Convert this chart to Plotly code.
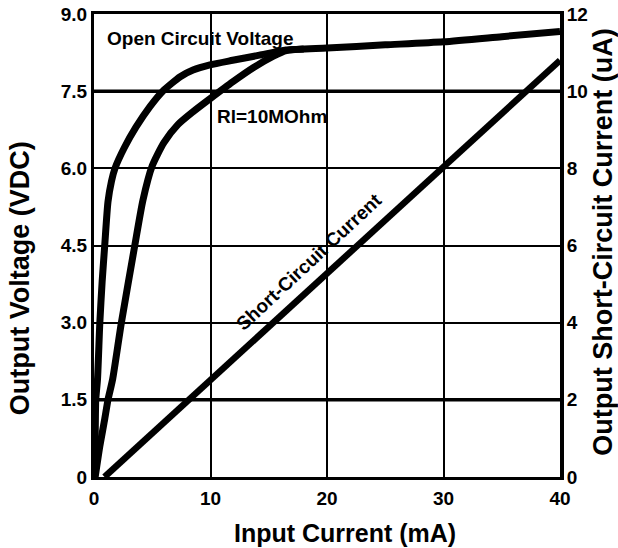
import plotly.graph_objects as go

# Open circuit voltage curve (Input current mA, Output voltage V)
oc_current = [0, 0.1, 0.15, 0.3, 0.5, 0.7, 0.92, 1.2, 1.5, 1.8, 2.6, 3.6, 4.8, 5.9, 7.4, 8.5, 9.95, 11.9, 14.2, 16.5, 20, 25, 30, 35, 40]
oc_voltage = [0, 0.8, 1.5, 1.9, 3.0, 3.8, 4.5, 5.35, 5.75, 6.0, 6.4, 6.8, 7.2, 7.5, 7.78, 7.91, 8.01, 8.1, 8.2, 8.3, 8.34, 8.4, 8.46, 8.56, 8.66]

# Rl = 10 MOhm load curve
rl_current = [0.1, 0.5, 0.9, 1.2, 1.6, 2.35, 3.5, 4.2, 5.0, 6.0, 7.2, 8.5, 10.0, 11.9, 13.7, 15.4, 16.5, 18]
rl_voltage = [0, 0.6, 1.1, 1.5, 1.9, 3.0, 4.5, 5.38, 6.05, 6.5, 6.85, 7.1, 7.36, 7.68, 7.96, 8.18, 8.29, 8.32]

# Short-circuit current (uA) vs input current (mA)
sc_current = [0.9, 40]
sc_ua = [0, 10.8]

x_ticks = [0, 10, 20, 30, 40]
y_ticks = [0, 1.5, 3.0, 4.5, 6.0, 7.5, 9.0]
y_tick_text = ["0", "1.5", "3.0", "4.5", "6.0", "7.5", "9.0"]
y2_ticks = [0, 2, 4, 6, 8, 10, 12]
thick_grid = [1.5, 7.5]

FONT = "Liberation Sans, Arial, sans-serif"

fig = go.Figure()
fig.add_trace(go.Scatter(x=oc_current, y=oc_voltage, mode="lines",
                         line=dict(color="black", width=7, shape="spline", smoothing=0.6), showlegend=False))
fig.add_trace(go.Scatter(x=rl_current, y=rl_voltage, mode="lines",
                         line=dict(color="black", width=7, shape="spline", smoothing=0.6), showlegend=False))
fig.add_trace(go.Scatter(x=sc_current, y=sc_ua, mode="lines", line=dict(color="black", width=6.5),
                         yaxis="y2", showlegend=False))

for v in thick_grid:
    fig.add_shape(type="line", xref="paper", x0=0, x1=1, yref="y", y0=v, y1=v,
                  line=dict(color="black", width=3.5), layer="below")

tickfont = dict(family=FONT, size=19, color="black", weight="bold")
annfont = dict(family=FONT, size=19, color="black", weight="bold")

fig.update_layout(
    width=618, height=548,
    margin=dict(l=94, r=58, t=14, b=71, autoexpand=False),
    paper_bgcolor="white", plot_bgcolor="white",
    xaxis=dict(range=[0, 40], tickvals=x_ticks, showgrid=True, gridcolor="black", gridwidth=2,
               zeroline=False, showline=True, linecolor="black", linewidth=3, mirror=True,
               tickfont=tickfont, ticks="", ticklabelstandoff=2, automargin=False),
    yaxis=dict(range=[0, 9], tickvals=y_ticks, ticktext=y_tick_text, showgrid=True, gridcolor="black",
               gridwidth=2, zeroline=False, showline=True, linecolor="black", linewidth=3,
               tickfont=tickfont, ticks="", ticklabelstandoff=0, automargin=False),
    yaxis2=dict(range=[0, 12], tickvals=y2_ticks, overlaying="y", side="right", showgrid=False,
                zeroline=False, showline=True, linecolor="black", linewidth=4,
                tickfont=tickfont, ticks="", ticklabelstandoff=-1, automargin=False),
    annotations=[
        dict(text="Open Circuit Voltage", x=9.1, y=8.53, xref="x", yref="y", showarrow=False, font=annfont,
             xanchor="center", yanchor="middle"),
        dict(text="Rl=10MOhm", x=15.3, y=7.0, xref="x", yref="y", showarrow=False, font=annfont,
             xanchor="center", yanchor="middle"),
        dict(text="Short-Circuit Current", x=18.5, y=4.18, xref="x", yref="y", showarrow=False,
             textangle=-43, font=annfont, xanchor="center", yanchor="middle"),
        dict(text="Input Current (mA)", x=0.539, y=-0.120, xref="paper", yref="paper", showarrow=False,
             font=dict(family=FONT, size=25, color="black", weight="bold"), xanchor="center", yanchor="middle"),
        dict(text="Output Voltage (VDC)", x=-0.157, y=0.429, xref="paper", yref="paper", showarrow=False,
             textangle=-90, font=dict(family=FONT, size=27, color="black", weight="bold"),
             xanchor="center", yanchor="middle"),
        dict(text="Output Short-Circuit Current (uA)", x=1.092, y=0.508, xref="paper", yref="paper",
             showarrow=False, textangle=-90, font=dict(family=FONT, size=27, color="black", weight="bold"),
             xanchor="center", yanchor="middle"),
    ],
)

fig.write_html("out.html", config={"displayModeBar": False},
               post_script="document.body.style.margin='0';document.body.style.overflow='hidden';")
